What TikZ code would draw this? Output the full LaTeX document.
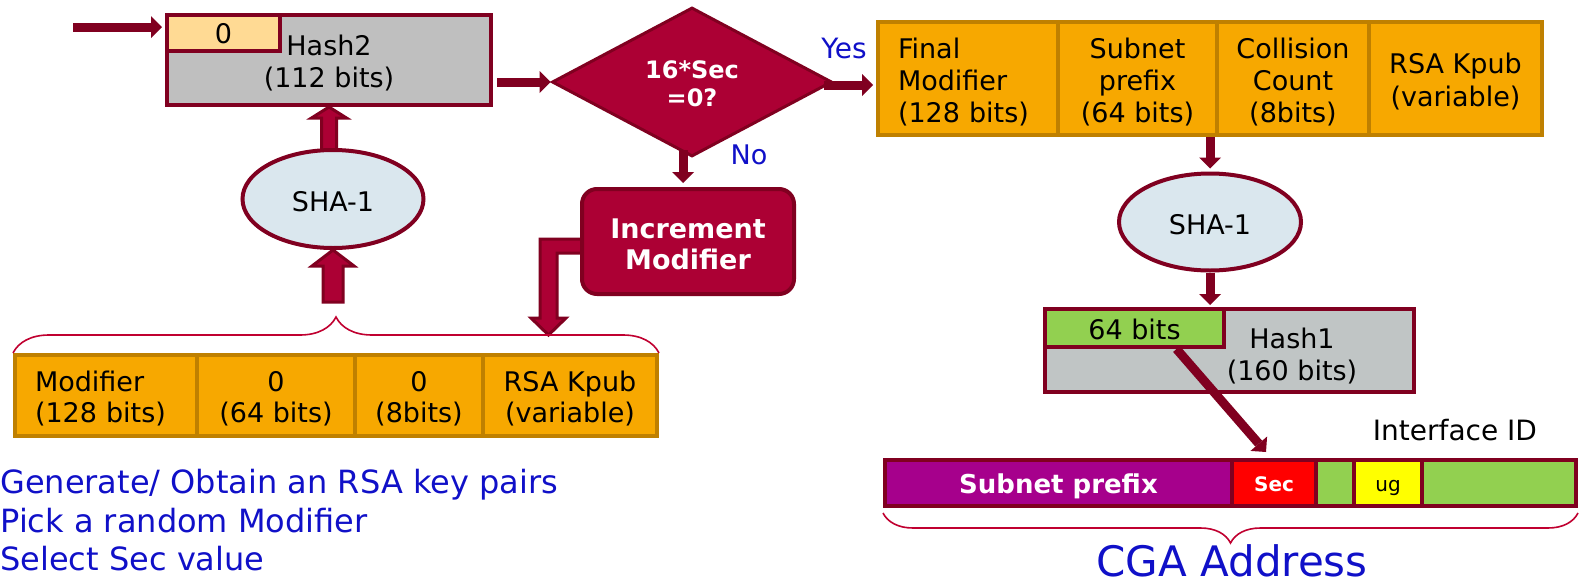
\documentclass[tikz,border=0pt]{standalone}
\usepackage{fontspec}
\setmainfont{DejaVu Sans}
\usetikzlibrary{shapes.geometric,arrows.meta,decorations.pathreplacing,backgrounds,calc}
\definecolor{maroon}{RGB}{128,0,32}
\definecolor{crimson}{RGB}{172,0,52}
\definecolor{orng}{RGB}{247,168,0}
\definecolor{goldb}{RGB}{191,128,0}
\definecolor{graytwo}{RGB}{191,191,191}
\definecolor{grayone}{RGB}{192,197,197}
\definecolor{lorange}{RGB}{255,218,148}
\definecolor{shafill}{RGB}{218,231,238}
\definecolor{grn}{RGB}{146,208,80}
\definecolor{purp}{RGB}{166,0,140}
\definecolor{redc}{RGB}{255,0,0}
\definecolor{yel}{RGB}{255,255,0}
\definecolor{brc}{RGB}{192,0,48}
\definecolor{tblue}{RGB}{16,16,200}
\newcommand\fsA{\fontsize{13.5pt}{15.75pt}\selectfont}
\newcommand\fsB{\bfseries\fontsize{12pt}{14pt}\selectfont}
\newcommand\fsC{\bfseries\fontsize{13.5pt}{15.5pt}\selectfont}
\newcommand\fsD{\bfseries\fontsize{13pt}{15pt}\selectfont}
\newcommand\fsE{\fontsize{10pt}{12pt}\selectfont}
\newcommand\fsF{\bfseries\fontsize{10pt}{12pt}\selectfont}
\newcommand\sA{\rule{0pt}{13.3pt}}
\begin{document}
\begin{tikzpicture}[x=0.5pt,y=-0.5pt,
  mbox/.style={rectangle, draw=maroon, line width=2pt, inner sep=0pt, font=\fsA, align=center},
  ocell/.style={rectangle, fill=orng, draw=goldb, line width=2pt, inner sep=0pt, font=\fsA, align=center},
  ell/.style={ellipse, fill=shafill, draw=maroon, line width=2pt, inner sep=0pt, font=\fsA},
  sarrow/.style={draw=maroon, line width=4.5pt, -{Triangle[width=11pt,length=5.5pt,line width=0pt]}},
  barrow/.style={fill=crimson, draw=maroon, line width=1.5pt, line join=miter},
  brace line/.style={draw=brc, line width=0.8pt, decorate},
  bluetext/.style={text=tblue, inner sep=0pt}
]
\useasboundingbox (0,0) rectangle (1580,584);

% ---- left column ----
\node[mbox, fill=graytwo, minimum width=162pt, minimum height=45pt] (hash2) at (329,60) {\sA Hash2\\(112 bits)};
\node[mbox, fill=lorange, minimum width=56.5pt, minimum height=18pt] (zero) at (223.5,33) {\rule{0pt}{11pt}0};
\node[ell, minimum width=90.5pt, minimum height=49pt] (sha1l) at (333,199) {\rule{0pt}{13pt}SHA-1};

\node[ocell, minimum width=91pt, minimum height=40.5pt, text width=71pt, inner xsep=10pt, align=left] (c1) at (106,395.5) {\sA Modifier\\(128 bits)};
\node[ocell, minimum width=79pt, minimum height=40.5pt] (c2) at (276,395.5) {\sA 0\\(64 bits)};
\node[ocell, minimum width=64pt, minimum height=40.5pt] (c3) at (419,395.5) {\sA 0\\(8bits)};
\node[ocell, minimum width=87pt, minimum height=40.5pt] (c4) at (570,395.5) {\sA RSA Kpub\\(variable)};

\node[bluetext, font=\fontsize{16pt}{19pt}\selectfont, anchor=base west] (t1) at (0,493) {Generate/ Obtain an RSA key pairs};
\node[bluetext, font=\fontsize{16pt}{19pt}\selectfont, anchor=base west] (t2) at (0,532) {Pick a random Modifier};
\node[bluetext, font=\fontsize{16pt}{19pt}\selectfont, anchor=base west] (t3) at (0,570) {Select Sec value};

% ---- middle ----
\node[diamond, fill=crimson, draw=maroon, line width=1.5pt, minimum width=140pt, minimum height=74.5pt, inner sep=0pt, font=\fsB, text=white, align=center] (dia) at (692,82) {\rule{0pt}{10.75pt}16*Sec\\=0?};
\node[rectangle, rounded corners=7.5pt, fill=crimson, draw=maroon, line width=2pt, minimum width=106pt, minimum height=52.5pt, inner sep=0pt, font=\fsC, text=white, align=center] (incr) at (688,241.5) {\rule{0pt}{12.3pt}Increment\\Modifier};
\node[bluetext, font=\fontsize{14pt}{16pt}\selectfont] (yes) at (844,48) {Yes};
\node[bluetext, font=\fontsize{13.5pt}{16pt}\selectfont] (no) at (749,155) {No};

% ---- right column ----
\node[ocell, minimum width=90pt, minimum height=56.5pt, text width=70pt, inner xsep=10pt, align=left, font=\fontsize{13.5pt}{16pt}\selectfont] (r1) at (968,78.5) {\sA Final\\Modifier\\(128 bits)};
\node[ocell, minimum width=79.5pt, minimum height=56.5pt, font=\fontsize{13.5pt}{16pt}\selectfont] (r2) at (1137.5,78.5) {\sA Subnet\\prefix\\(64 bits)};
\node[ocell, minimum width=76pt, minimum height=56.5pt, font=\fontsize{13.5pt}{16pt}\selectfont] (r3) at (1293,78.5) {\sA Collision\\Count\\(8bits)};
\node[ocell, minimum width=86.5pt, minimum height=56.5pt, font=\fontsize{13.5pt}{16.5pt}\selectfont] (r4) at (1455.5,78.5) {\sA RSA Kpub\\(variable)};

\node[ell, minimum width=91pt, minimum height=48.5pt] (sha1r) at (1210,222) {\rule{0pt}{13pt}SHA-1};

\node[mbox, fill=grayone, minimum width=184.5pt, minimum height=41.5pt] (hash1) at (1229.5,350.5) {};
\node[mbox, fill=grn, minimum width=89.5pt, minimum height=19pt] (g64) at (1134.5,328) {\rule{0pt}{11.3pt}64 bits};
\node[font=\fsA, align=center, inner sep=0pt] (h1lbl) at (1292,353) {\sA Hash1\\(160 bits)};

\node[font=\fontsize{14pt}{16pt}\selectfont, inner sep=0pt] (ifid) at (1455,430) {Interface ID};

\node[mbox, fill=purp, minimum width=173.5pt, minimum height=23pt, font=\fsD, text=white] (s1) at (1058.5,483) {\rule{0pt}{12.9pt}Subnet prefix};
\node[mbox, fill=redc, minimum width=42pt, minimum height=23pt, font=\fsF, text=white] (s2) at (1274,483) {\rule{0pt}{8.4pt}Sec};
\node[mbox, fill=grn, minimum width=19pt, minimum height=23pt] (s3) at (1335,483) {};
\node[mbox, fill=yel, minimum width=34pt, minimum height=23pt, font=\fsE] (s4) at (1388,483) {\rule{0pt}{10.5pt}ug};
\node[mbox, fill=grn, minimum width=77pt, minimum height=23pt] (s5) at (1499,483) {};

\node[bluetext, font=\fontsize{21pt}{25pt}\selectfont, anchor=base] (cga) at (1232,576) {CGA Address};

% ---- braces ----
\draw[brace line, decoration={brace, amplitude=18pt}] (c1.north west) -- (c4.north east);
\draw[brace line, decoration={brace, amplitude=15pt, mirror, raise=2.5pt}] (s1.south west) -- (s5.south east);

% ---- block arrows (behind boxes) ----
\begin{scope}[on background layer]
\filldraw[barrow] (hash2.south) -- ++(17.5,11) -- ++(-10,0) -- ++(0,32) -- ++(-15,0) -- ++(0,-32) -- ++(-10,0) -- cycle;
\filldraw[barrow] (sha1l.south) -- ++(21,16) -- ++(-11,0) -- ++(0,36) -- ++(-20,0) -- ++(0,-36) -- ++(-11,0) -- cycle;
\filldraw[barrow] ($(incr.west)+(2,-2.5)$) -- ++(-42,0) -- ++(0,79) -- ++(-9,0) -- ++(17.5,17) -- ++(17.5,-17) -- ++(-9,0) -- ++(0,-65) -- ++(25,0) -- cycle;
\end{scope}

% ---- solid arrows ----
\coordinate (inS) at (73,27);
\draw[sarrow] (inS) -- ([xshift=-1.5pt]inS -| hash2.west);
\draw[sarrow] ([xshift=2pt]hash2.east |- dia.west) -- (dia.west);
\draw[sarrow] ([xshift=-5pt,yshift=-1.5pt]dia.east) -- ([xshift=-1.5pt,yshift=-1.5pt]dia.east -| r1.west);
\draw[sarrow] ([xshift=-4.5pt,yshift=4pt]dia.south) -- ([xshift=-2.5pt,yshift=2pt]incr.north);
\draw[sarrow] (sha1r.north |- r2.south) -- ([yshift=1.5pt]sha1r.north);
\draw[sarrow] (sha1r.south) -- ([yshift=1pt]sha1r.south |- hash1.north);
\draw[sarrow] ([xshift=21pt]g64.south) -- ([xshift=-4pt,yshift=3pt]s2.north);
\end{tikzpicture}
\end{document}
